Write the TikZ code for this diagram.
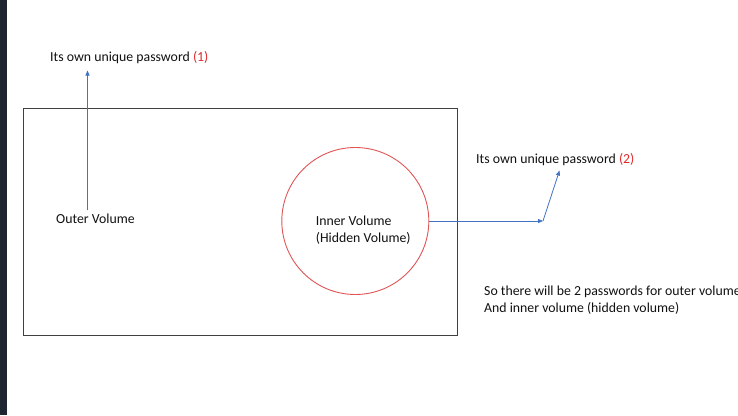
\documentclass[tikz,border=0pt]{standalone}
\usepackage{fontspec}
\setmainfont{Carlito}
\usetikzlibrary{arrows.meta}
\definecolor{txt}{HTML}{111111}
\definecolor{redtxt}{HTML}{E02828}
\definecolor{boxline}{HTML}{404040}
\definecolor{arrowblue}{HTML}{4472C4}
\definecolor{circred}{HTML}{E05555}
\definecolor{sidebar}{HTML}{1E2430}
\tikzset{
  lbl/.style={inner sep=0pt, anchor=west, text=txt, font=\fontsize{13.8}{16.8}\selectfont, align=left},
  blueline/.style={draw=arrowblue, line width=0.8pt},
  bluearrow/.style={blueline, -{Triangle[length=5pt,width=4pt]}},
}
\begin{document}
\begin{tikzpicture}[x=1pt,y=-1pt]
\useasboundingbox (0,0) rectangle (738,415);
\clip (0,0) rectangle (738,415);
\fill[white] (0,0) rectangle (738,415);
\fill[sidebar] (0,0) rectangle (7,415);
% outer volume box
\draw[boxline, line width=1pt] (23,108) rectangle (457.7,335);
% inner circle
\node[draw=circred, line width=0.9pt, circle, minimum size=147pt, inner sep=0pt] (inner) at (355.3,221) {};
% texts
\node[lbl] (pw1) at (50,58) {Its own unique password \textcolor{redtxt}{(1)}};
\node[lbl] (outer) at (56,219) {Outer Volume};
\node[lbl] (innertxt) at (315.7,230) {Inner Volume\\(Hidden Volume)};
\node[lbl] (pw2) at (476,160) {Its own unique password \textcolor{redtxt}{(2)}};
\node[lbl] (note) at (484,300) {So there will be 2 passwords for outer volume\\And inner volume (hidden volume)};
% arrows
\coordinate (a1start) at (87.5,210);
\coordinate (a1end) at (87.5,70.5);
\draw[bluearrow] (a1start) -- (a1end);
\coordinate (bend) at (543,221);
\coordinate (tip2) at (559.5,170.5);
\draw[bluearrow] (inner.east) -- (bend);
\draw[bluearrow] (bend) -- (tip2);
\end{tikzpicture}
\end{document}
